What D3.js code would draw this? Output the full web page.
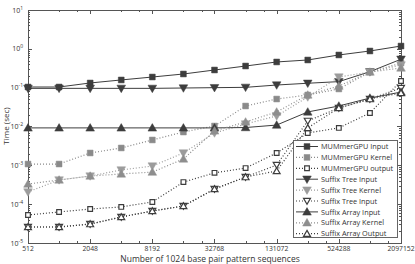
<!DOCTYPE html>
<html>
<head>
<meta charset="utf-8">
<script src="https://cdn.jsdelivr.net/npm/d3@7"></script>
<style>
body { margin: 0; background: #fff; }
text { font-family: "Open Sans", "DejaVu Sans", sans-serif; fill: #333; }
</style>
</head>
<body>
<div id="chart"></div>
<script>
// sequence counts on the x axis
var sizes = [512, 1024, 2048, 4096, 8192, 16384, 32768, 65536, 131072, 262144, 524288, 1048576, 2097152];
var xTickLabels = [512, 2048, 8192, 32768, 131072, 524288, 2097152];
var yTickExps = [1, 0, -1, -2, -3, -4, -5];

// times in seconds
var mumInput  = [0.104, 0.104, 0.132, 0.158, 0.188, 0.225, 0.285, 0.361, 0.459, 0.516, 0.695, 0.88, 1.18];
var mumKernel = [1.08e-3, 1.08e-3, 2.08e-3, 2.8e-3, 4.5e-3, 7.2e-3, 0.0103, 0.0337, 0.051, 0.0648, 0.0925, 0.253, 0.43];
var mumOutput = [5.26e-5, 6.3e-5, 7.5e-5, 8.5e-5, 1.14e-4, 3.7e-4, 6.4e-4, 8.5e-4, 2.08e-3, 6.8e-3, 9.2e-3, 0.0223, 0.149];
var stInput   = [0.096, 0.096, 0.096, 0.096, 0.096, 0.098, 0.1, 0.102, 0.117, 0.13, 0.143, 0.258, 0.54];
var stKernel  = [2.06e-4, 4.2e-4, 5.3e-4, 7.6e-4, 9.6e-4, 2.08e-3, 6.8e-3, 0.0116, 0.0187, 0.0575, 0.188, 0.253, 0.384];
var stOutput  = [2.58e-5, 2.58e-5, 3.08e-5, 4.67e-5, 6.67e-5, 8.97e-5, 2.46e-4, 5.0e-4, 1.02e-3, 0.0139, 0.030, 0.051, 0.098];
var saInput   = [0.0092, 0.0092, 0.0092, 0.0092, 0.0092, 0.0092, 0.0092, 0.0094, 0.0109, 0.0237, 0.0337, 0.054, 0.077];
var saKernel  = [3.3e-4, 4.2e-4, 5.3e-4, 6.0e-4, 6.7e-4, 1.46e-3, 7.7e-3, 0.0131, 0.0237, 0.0648, 0.11, 0.253, 0.321];
var saOutput  = [2.58e-5, 2.58e-5, 3.08e-5, 4.67e-5, 6.67e-5, 8.97e-5, 2.46e-4, 5.0e-4, 7.15e-4, 9.2e-3, 0.030, 0.051, 0.073];

var seriesNames = ["MUMmerGPU Input", "MUMmerGPU Kernel", "MUMmerGPU output",
                   "Suffix Tree Input", "Suffix Tree Kernel", "Suffix Tree Input",
                   "Suffix Array Input", "Suffix Array Kernel", "Suffix Array Output"];
var seriesValues = [mumInput, mumKernel, mumOutput, stInput, stKernel, stOutput, saInput, saKernel, saOutput];

var dark = "#3d3d3d";
var styles = [
    {color: dark,      dash: null,  shape: "square", fill: true},
    {color: "#8a8a8a", dash: "1,2", shape: "square", fill: true},
    {color: dark,      dash: "1,2", shape: "square", fill: false},
    {color: dark,      dash: null,  shape: "down",   fill: true},
    {color: "#9c9c9c", dash: "1,2", shape: "down",   fill: true},
    {color: dark,      dash: "1,2", shape: "down",   fill: false},
    {color: dark,      dash: null,  shape: "up",     fill: true},
    {color: "#8e8e8e", dash: "1,2", shape: "up",     fill: true},
    {color: dark,      dash: "1,2", shape: "up",     fill: false}
];

var W = 415, H = 264;
var mLeft = 28, mRight = 401, mTop = 10, mBottom = 243;

var svg = d3.select("#chart").append("svg")
    .attr("width", W)
    .attr("height", H);

var x = d3.scaleLog().base(2)
    .domain([512, 2097152])
    .range([mLeft, mRight]);

var y = d3.scaleLog()
    .domain([1e-5, 10])
    .range([mBottom, mTop]);

// frame
svg.append("rect")
    .attr("x", mLeft + 0.5)
    .attr("y", mTop + 0.5)
    .attr("width", mRight - mLeft)
    .attr("height", mBottom - mTop)
    .attr("fill", "none")
    .attr("stroke", "#555")
    .attr("stroke-width", 1);

// y ticks, major and minor, inside on both sides
var yMinor = [];
for (var e = -5; e < 1; e++) {
    for (var m = 2; m <= 9; m++) yMinor.push(m * Math.pow(10, e));
}
var ticks = svg.append("g").attr("stroke", "#555").attr("stroke-width", 1);

yTickExps.forEach(function(k) {
    var yy = Math.round(y(Math.pow(10, k))) + 0.5;
    ticks.append("line").attr("x1", mLeft).attr("x2", mLeft + 4).attr("y1", yy).attr("y2", yy);
    ticks.append("line").attr("x1", mRight - 4).attr("x2", mRight).attr("y1", yy).attr("y2", yy);
});
yMinor.forEach(function(v) {
    var yy = Math.round(y(v)) + 0.5;
    ticks.append("line").attr("x1", mLeft).attr("x2", mLeft + 2).attr("y1", yy).attr("y2", yy);
    ticks.append("line").attr("x1", mRight - 2).attr("x2", mRight).attr("y1", yy).attr("y2", yy);
});

// x ticks: labelled ones long, 2x and 3x short
xTickLabels.forEach(function(v) {
    var xx = Math.round(x(v)) + 0.5;
    ticks.append("line").attr("x1", xx).attr("x2", xx).attr("y1", mBottom).attr("y2", mBottom - 4);
    ticks.append("line").attr("x1", xx).attr("x2", xx).attr("y1", mTop).attr("y2", mTop + 4);
    [2, 3].forEach(function(m) {
        if (v * m > 2097152) return;
        var xm = Math.round(x(v * m)) + 0.5;
        ticks.append("line").attr("x1", xm).attr("x2", xm).attr("y1", mBottom).attr("y2", mBottom - 2);
        ticks.append("line").attr("x1", xm).attr("x2", xm).attr("y1", mTop).attr("y2", mTop + 2);
    });
});

// tick labels
svg.selectAll(".xlab")
    .data(xTickLabels)
    .enter().append("text")
    .attr("class", "xlab")
    .attr("x", function(d) { return x(d); })
    .attr("y", 251)
    .attr("text-anchor", "middle")
    .style("font-size", "6.8px")
    .text(function(d) { return d; });

yTickExps.forEach(function(k) {
    var t = svg.append("text")
        .attr("x", 23)
        .attr("y", y(Math.pow(10, k)) + 2.5)
        .attr("text-anchor", "end")
        .style("font-size", "7px");
    t.append("tspan").text("10");
    t.append("tspan").attr("dy", -3).style("font-size", "5px").text(k);
});

// axis titles
svg.append("text")
    .attr("x", 210)
    .attr("y", 262)
    .attr("text-anchor", "middle")
    .style("font-size", "8.5px")
    .text("Number of 1024 base pair pattern sequences");

svg.append("text")
    .attr("transform", "translate(9,126) rotate(-90)")
    .attr("text-anchor", "middle")
    .style("font-size", "8px")
    .text("Time (sec)");

// marker shapes
function symbolPath(shape, size) {
    if (shape == "square") return d3.symbol().type(d3.symbolSquare).size(size)();
    return d3.symbol().type(d3.symbolTriangle).size(size * 0.95)();
}
function drawMarker(g, st, cx, cy) {
    var size = st.fill ? 34 : 22;
    var rot = st.shape == "down" ? 180 : 0;
    var dy = st.shape == "square" ? 0 : (st.shape == "down" ? -0.7 : 0.7);
    g.append("path")
        .attr("d", symbolPath(st.shape, size))
        .attr("transform", "translate(" + cx + "," + (cy + dy) + ") rotate(" + rot + ")")
        .attr("fill", st.fill ? st.color : "#fff")
        .attr("stroke", st.color)
        .attr("stroke-width", st.fill ? 0.5 : 1.2);
}

var line = d3.line()
    .x(function(d, i) { return x(sizes[i]); })
    .y(function(d) { return y(d); });

var plot = svg.append("g");
seriesValues.forEach(function(vals, s) {
    var st = styles[s];
    plot.append("path")
        .datum(vals)
        .attr("d", line)
        .attr("fill", "none")
        .attr("stroke", st.color)
        .attr("stroke-width", st.dash ? 1.2 : 1)
        .attr("stroke-dasharray", st.dash);
    vals.forEach(function(v, i) {
        drawMarker(plot, st, x(sizes[i]), y(v));
    });
});

// legend
var lg = svg.append("g");
lg.append("rect")
    .attr("x", 293.5)
    .attr("y", 140.5)
    .attr("width", 104)
    .attr("height", 97)
    .attr("fill", "#fff")
    .attr("stroke", "#666")
    .attr("stroke-width", 1);

seriesNames.forEach(function(name, s) {
    var st = styles[s];
    var ly = 146.5 + s * 10.9;
    lg.append("line")
        .attr("x1", 296)
        .attr("x2", 318)
        .attr("y1", ly)
        .attr("y2", ly)
        .attr("stroke", st.color)
        .attr("stroke-width", st.dash ? 1.2 : 1)
        .attr("stroke-dasharray", st.dash);
    drawMarker(lg, st, 307, ly);
    lg.append("text")
        .attr("x", 321)
        .attr("y", ly + 2.6)
        .style("font-size", "7.3px")
        .text(name);
});
</script>
</body>
</html>
